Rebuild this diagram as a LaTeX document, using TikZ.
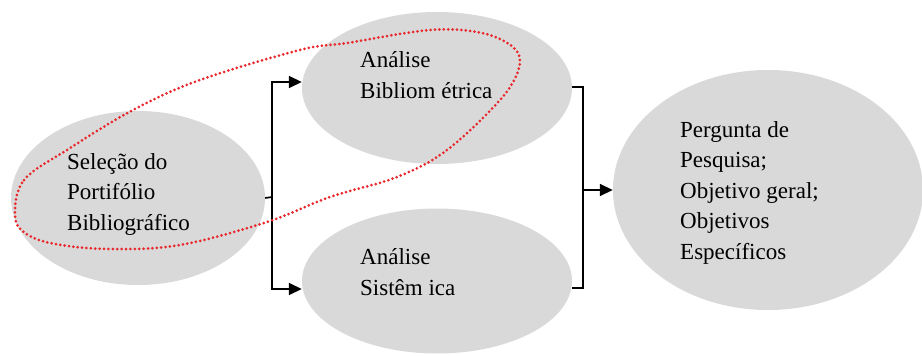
\documentclass[tikz,border=0pt]{standalone}
\usepackage{fontspec}
\setmainfont{Liberation Serif}
\usetikzlibrary{arrows.meta,shapes.geometric}
\definecolor{ellfill}{RGB}{217,217,217}
\definecolor{loopred}{RGB}{232,40,45}
\tikzset{
  bubble/.style={ellipse, fill=ellfill, draw=none, inner sep=0pt},
  label/.style={anchor=base west, align=left, inner sep=0pt, font=\fontsize{23}{30.5}\selectfont},
  conn/.style={line width=1.7pt, black},
  arr/.style={conn, -{Triangle[length=13pt,width=12pt]}},
  loop/.style={loopred, line width=3pt, line cap=round, dash pattern=on 0pt off 4.4pt}
}
\begin{document}
\begin{tikzpicture}[x=1pt,y=-1pt]
\useasboundingbox (0,0) rectangle (922,356);
\node[bubble, minimum width=254pt, minimum height=174pt] (L) at (138,198) {};
\node[bubble, minimum width=270pt, minimum height=152pt] (T) at (437,88) {};
\node[bubble, minimum width=270pt, minimum height=145pt] (B) at (437,281) {};
\node[bubble, minimum width=310pt, minimum height=240pt] (R) at (768,190) {};

\node[label] (tL) at (67,230) {Seleção do\\Portifólio\\Bibliográfico};
\node[label] (tT) at (360,98) {Análise\\Bibliom étrica};
\node[label] (tB) at (360,295) {Análise\\Sistêm ica};
\node[label] (tR) at (680,259) {Pergunta de\\Pesquisa;\\Objetivo geral;\\Objetivos\\Específicos};

\coordinate (j1) at (272,197);
\coordinate (j2) at (583,190);
\draw[conn] (L.east) -- (j1);
\draw[arr] (j1) |- ([yshift=6pt]T.west);
\draw[arr] (j1) |- ([yshift=-8pt]B.west);
\draw[conn] ([yshift=1pt]T.east) -| (j2) |- ([yshift=-7pt]B.east);
\draw[arr] (j2) -- (R.west);

\draw[loop] plot[smooth cycle, tension=0.6] coordinates {
  (15,215) (24,180) (67,150) (133,110) (200,80) (300,50) (347,43) (430,30)
  (482,33) (514,48) (519,68) (500,100) (447,150) (397,177) (330,197)
  (267,222) (180,245) (110,249) (55,244) (25,233)};
\end{tikzpicture}
\end{document}
